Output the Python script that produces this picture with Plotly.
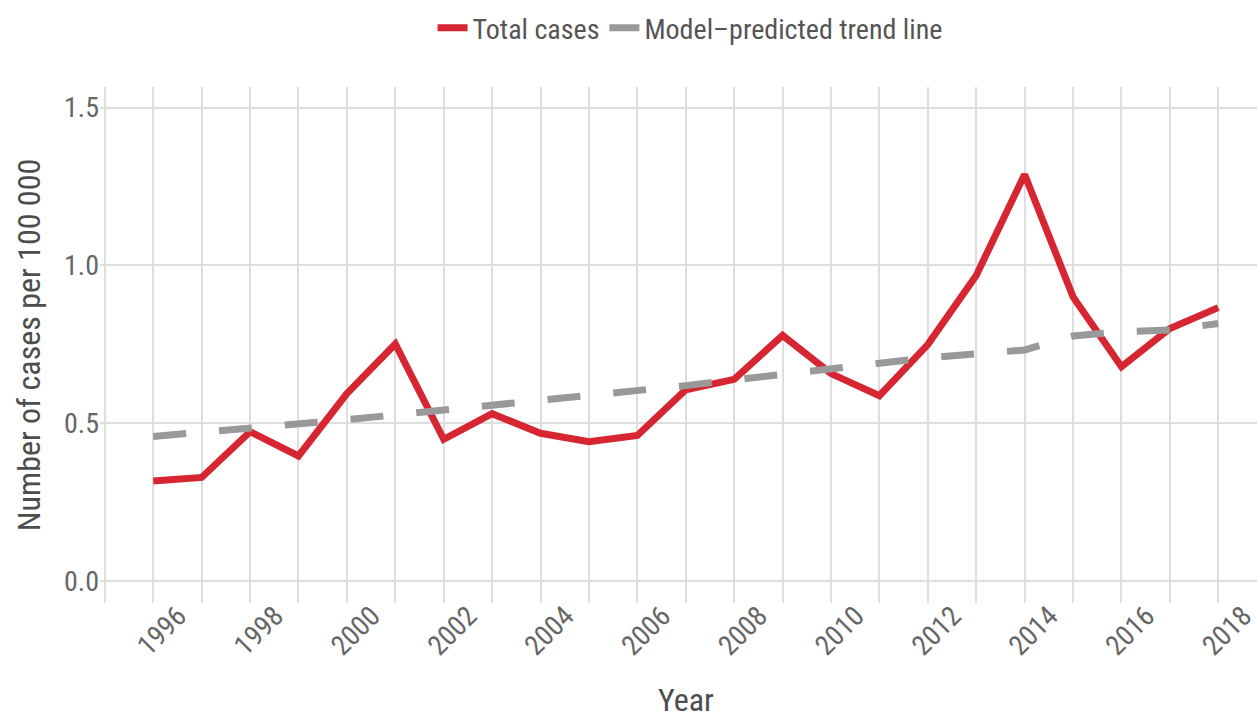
import plotly.graph_objects as go

years = list(range(1996, 2019))

total_cases = [0.317, 0.328, 0.473, 0.396, 0.594, 0.751, 0.449, 0.530, 0.468,
               0.441, 0.461, 0.606, 0.639, 0.778, 0.657, 0.587, 0.749, 0.968,
               1.288, 0.900, 0.679, 0.800, 0.866]

trend_line = [0.458, 0.470, 0.485, 0.496, 0.511, 0.526, 0.541, 0.556, 0.572,
              0.587, 0.604, 0.619, 0.637, 0.653, 0.671, 0.690, 0.707, 0.717,
              0.732, 0.776, 0.790, 0.795, 0.816]

y_ticks = [0.0, 0.5, 1.0, 1.5]
x_ticks = list(range(1996, 2019, 2))

FONT = "Liberation Sans Narrow, Roboto Condensed, Arial Narrow, Roboto, sans-serif"
GRID = "#dedede"

fig = go.Figure()
fig.add_trace(go.Scatter(
    x=years, y=total_cases, name="Total cases", mode="lines",
    line=dict(color="#d62631", width=7),
))
fig.add_trace(go.Scatter(
    x=years, y=trend_line, name="Model\u2013predicted trend line", mode="lines",
    line=dict(color="#999999", width=7, dash="33px,33px"),
))

fig.update_layout(
    width=1257, height=717,
    margin=dict(l=100, r=0, t=87, b=114),
    paper_bgcolor="white", plot_bgcolor="white",
    font=dict(family=FONT, color="#555555", size=28),
    legend=dict(
        orientation="h", x=0.51, xanchor="center", y=0.961, yanchor="middle",
        yref="container", font=dict(size=28, color="#555555"),
        itemwidth=30, tracegroupgap=0,
    ),
    showlegend=True,
)

# x axis title placed by hand (axis title standoff is ignored without automargin)
fig.add_annotation(
    text="Year", x=0.5065, y=-0.188, xref="paper", yref="paper",
    xanchor="center", yanchor="middle", showarrow=False,
    font=dict(size=32, color="#4d4d4d"),
)

fig.update_xaxes(
    range=[1994.9, 2018.8], automargin=False,
    tickvals=x_ticks, ticktext=[str(v) for v in x_ticks],
    tickangle=-45, ticklabelshift=25, ticklabelstandoff=-10,
    ticklabeloverflow="allow",
    showgrid=True, gridcolor=GRID, gridwidth=1.5,
    minor=dict(dtick=1, tick0=1996, showgrid=True, gridcolor=GRID, gridwidth=1.5),
    zeroline=False, showline=False, ticks="",
    tickfont=dict(size=28, color="#666666"),
)
fig.update_yaxes(
    range=[-0.0697, 1.565], automargin=False,
    tickvals=y_ticks, tickformat=".1f",
    showgrid=True, gridcolor=GRID, gridwidth=1.5,
    zeroline=False, showline=False, ticks="",
    tickfont=dict(size=28, color="#666666"),
    title=dict(text="Number of cases per 100 000", font=dict(size=32, color="#4d4d4d"),
               standoff=13),
)

# the page body has a default 8px margin; drop it so the figure fills the window
fig.write_html("out.html", config={"displayModeBar": False},
               post_script="document.body.style.margin='0';")
